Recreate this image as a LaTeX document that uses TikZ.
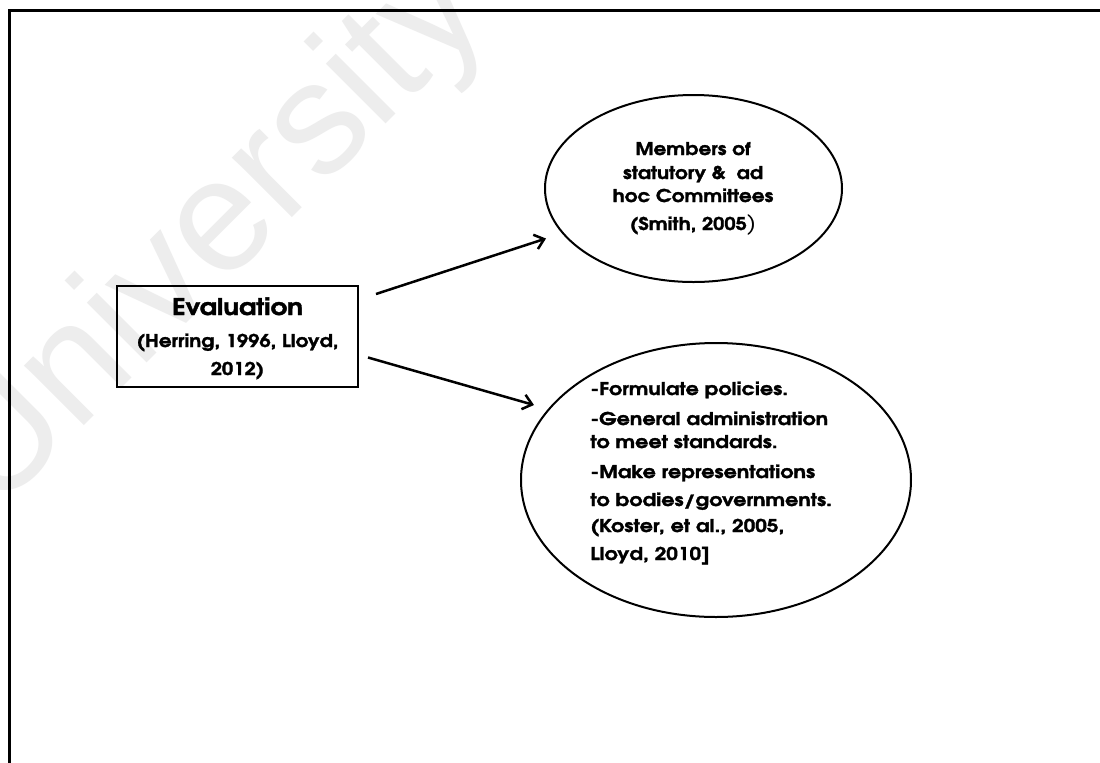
\documentclass[tikz,border=0pt]{standalone}
\usepackage{graphicx}
\usepackage{fontspec}
\setmainfont{TeX Gyre Adventor}[BoldFeatures={FakeBold=1.5}]
\newfontfamily\wmfont{Liberation Sans}
\usetikzlibrary{shapes.geometric,arrows.meta,calc}
% wide heavy lettering
\newcommand\widetxt[1]{\scalebox{1.14}[1]{#1}}
\newcommand\widertxt[1]{\scalebox{1.18}[1]{#1}}
% tall thin closing parenthesis
\newcommand\tallparen{{\mdseries\fontsize{11}{11}\selectfont)}}

\begin{document}
\begin{tikzpicture}[x=0.5pt,y=-0.5pt,
  frameline/.style={line width=1.5pt},
  evalbox/.style={draw, line width=1pt, minimum width=120.5pt, minimum height=50.5pt, inner sep=0},
  oval/.style={draw, ellipse, line width=1pt, inner sep=0},
  link/.style={line width=1.25pt, -{Straight Barb[length=4.5pt,width=7.5pt]}},
  txt/.style={font=\bfseries\fontsize{8.8}{10}\selectfont, inner sep=0, anchor=base},
  txtl/.style={txt, anchor=base west},
  headtxt/.style={font=\bfseries\fontsize{11.5}{13}\selectfont, inner sep=0, anchor=base},
]
\useasboundingbox (0,0) rectangle (1100,762);
\clip (0,0) rectangle (1100,762);
\fill[white] (0,0) rectangle (1100,762);

% watermark
\node[rotate=45, anchor=base west, inner sep=0, text=black!7,
      font=\wmfont\fontsize{80}{80}\selectfont] (wm) at (-5,515) {University};

% page frame (top and left edges)
\draw[frameline] (9,764) -- (9,10) -- (1102,10);

% evaluation box
\node[evalbox] (eval) at (237.5,336.5) {};
\node[headtxt] (ev1) at (237.5,315) {\widetxt{Evaluation}};
\node[txt] (ev2) at (237.5,347) {\widetxt{(Herring, 1996, Lloyd,}};
\node[txt] (ev3) at (237.5,375) {\widetxt{2012)}};

% committees ellipse
\node[oval, minimum width=148.5pt, minimum height=93.5pt] (mem) at (693.5,188.5) {};
\node[txt] (m1) at (693,155) {\widetxt{Members of}};
\node[txt] (m2) at (693,179) {\widetxt{statutory \&~ ad}};
\node[txt] (m3) at (693,202) {\widetxt{hoc Committees}};
\node[txt] (m4) at (693,230) {\widetxt{(Smith, 2005\tallparen}};

% functions ellipse
\node[oval, minimum width=195pt, minimum height=137pt] (fun) at (716,480) {};
\node[txtl] (f1) at (590,395) {\widertxt{-Formulate policies.}};
\node[txtl] (f2) at (590,425) {\widertxt{-General administration}};
\node[txtl] (f3) at (590,448) {\widertxt{to meet standards.}};
\node[txtl] (f4) at (590,478) {\widertxt{-Make representations}};
\node[txtl] (f5) at (590,506) {\widertxt{to bodies/governments.}};
\node[txtl] (f6) at (590,532) {\widertxt{(Koster, et al., 2005,}};
\node[txtl] (f7) at (590,560) {\widertxt{Lloyd, 2010]}};

% connectors
\coordinate (a1s) at ($(eval.north east)+(17,9)$);
\coordinate (a1e) at ($(mem.west)+(2,50)$);
\coordinate (a2s) at ($(eval.east)+(9,21)$);
\coordinate (a2e) at ($(fun.west)+(14,-75)$);
\draw[link] (a1s) -- (a1e);
\draw[link] (a2s) -- (a2e);
\end{tikzpicture}
\end{document}
